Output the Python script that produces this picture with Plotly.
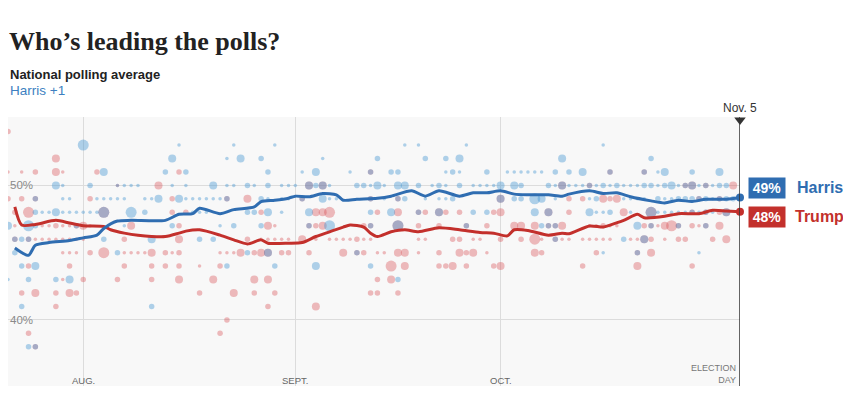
import plotly.graph_objects as go
import pandas as pd

# ---------------- data ----------------
START = "2024-07-21"   # day 0 of the poll day offsets
END = "2024-11-05"

harris_dates = ["2024-07-22", "2024-07-24", "2024-07-25", "2024-07-27", "2024-07-30",
                "2024-08-01", "2024-08-03", "2024-08-04", "2024-08-06", "2024-08-08", "2024-08-13",
                "2024-08-15", "2024-08-17", "2024-08-18", "2024-08-21", "2024-08-23", "2024-08-26",
                "2024-08-27", "2024-08-29", "2024-08-31",
                "2024-09-01", "2024-09-03", "2024-09-05", "2024-09-07", "2024-09-08", "2024-09-10",
                "2024-09-13", "2024-09-15", "2024-09-18", "2024-09-20", "2024-09-22", "2024-09-25",
                "2024-09-27", "2024-09-29",
                "2024-10-01", "2024-10-03", "2024-10-05", "2024-10-08", "2024-10-10", "2024-10-11",
                "2024-10-14", "2024-10-16", "2024-10-18", "2024-10-20", "2024-10-23", "2024-10-25",
                "2024-10-27", "2024-10-29", "2024-10-31", "2024-11-03", "2024-11-05"]
harris_avg = [45.35, 44.8, 45.55, 45.75, 45.9,
              46.1, 46.3, 46.8, 47.35, 47.4, 47.4,
              47.85, 47.9, 48.3, 47.9, 48.2, 48.4,
              48.8, 48.9, 49.05,
              49.2, 49.15, 49.4, 49.3, 48.9, 48.97,
              49.05, 49.2, 49.6, 49.2, 49.6, 49.2,
              49.45, 49.45,
              49.6, 49.35, 49.3, 49.3, 49.2, 49.35,
              49.6, 49.4, 49.45, 49.15, 48.85, 48.7,
              48.9, 48.8, 48.97, 48.97, 49.1]

trump_dates = ["2024-07-22", "2024-07-23", "2024-07-25", "2024-07-28", "2024-07-30",
               "2024-08-01", "2024-08-04", "2024-08-05", "2024-08-07", "2024-08-09", "2024-08-13",
               "2024-08-15", "2024-08-16", "2024-08-18", "2024-08-21", "2024-08-23", "2024-08-25",
               "2024-08-27", "2024-08-28", "2024-08-31",
               "2024-09-02", "2024-09-04", "2024-09-06", "2024-09-08", "2024-09-09", "2024-09-11",
               "2024-09-12", "2024-09-13", "2024-09-15", "2024-09-17", "2024-09-19", "2024-09-22",
               "2024-09-25", "2024-09-28", "2024-09-30",
               "2024-10-02", "2024-10-03", "2024-10-05", "2024-10-08", "2024-10-10", "2024-10-11",
               "2024-10-14", "2024-10-16", "2024-10-17", "2024-10-19", "2024-10-21", "2024-10-22",
               "2024-10-25", "2024-10-27", "2024-10-30", "2024-11-01", "2024-11-03", "2024-11-05"]
trump_avg = [48.4, 47.05, 47.1, 47.4, 47.2,
             47.0, 46.95, 46.7, 46.45, 46.3, 46.2,
             46.45, 46.6, 46.7, 46.3, 45.95, 45.65,
             45.95, 45.7, 45.7,
             45.75, 46.2, 46.55, 46.9, 47.05, 46.9,
             46.45, 46.2, 46.55, 46.7, 46.55, 46.85,
             46.7, 46.5, 46.45,
             46.25, 46.7, 46.65, 46.3, 46.45, 46.4,
             46.98, 46.9, 47.05, 47.4, 47.85, 47.6,
             47.7, 47.9, 47.9, 48.15, 48.1, 48.05]

# individual polls: (day offset from START, percent, size class 1-4)
harris_polls = [
    (11, 53, 4), (25, 53, 1), (33, 53, 1), (39, 53, 1), (58, 53, 1), (60, 53, 1), (67, 53, 1), (87, 53, 1),
    (24, 52, 3), (32, 52, 1), (34, 52, 3), (37, 52, 2), (46, 52, 1), (54, 52, 2), (61, 52, 2), (64, 52, 2),
    (66, 52, 3), (81, 52, 3), (94, 52, 2),
    (14, 51, 3), (23, 51, 2), (26, 51, 2), (38, 51, 2), (43, 51, 1), (45, 51, 3), (50, 51, 1), (53, 51, 2),
    (56, 51, 2), (57, 51, 2), (64, 51, 1), (65, 51, 2), (66, 51, 1), (70, 51, 2), (73, 51, 1), (74, 51, 1),
    (75, 51, 1), (76, 51, 1), (77, 51, 1), (78, 51, 1), (80, 51, 2), (82, 51, 2), (84, 51, 3), (88, 51, 2),
    (93, 51, 2), (95, 51, 1), (96, 51, 3), (100, 51, 2), (104, 51, 3),
    (7, 50, 3), (8, 50, 1), (12, 50, 2), (16, 50, 1), (17, 50, 1), (18, 50, 1), (19, 50, 1), (24, 50, 1),
    (26, 50, 1), (30, 50, 3), (32, 50, 1), (33, 50, 1), (35, 50, 2), (36, 50, 1), (38, 50, 2), (40, 50, 1),
    (41, 50, 1), (42, 50, 1), (44, 50, 3), (45, 50, 2), (46, 50, 3), (47, 50, 1), (51, 50, 2), (52, 50, 2),
    (53, 50, 1), (54, 50, 3), (55, 50, 1), (57, 50, 3), (58, 50, 3), (60, 50, 2), (62, 50, 1), (63, 50, 2),
    (64, 50, 1), (66, 50, 2), (68, 50, 1), (69, 50, 1), (70, 50, 1), (71, 50, 1), (72, 50, 3), (74, 50, 3),
    (75, 50, 2), (79, 50, 2), (80, 50, 1), (81, 50, 3), (82, 50, 1), (83, 50, 1), (84, 50, 1), (85, 50, 2),
    (86, 50, 1), (87, 50, 2), (88, 50, 1), (89, 50, 2), (90, 50, 1), (91, 50, 1), (92, 50, 1), (93, 50, 2),
    (94, 50, 2), (95, 50, 1), (96, 50, 2), (97, 50, 3), (98, 50, 1), (99, 50, 2), (100, 50, 3), (101, 50, 1),
    (102, 50, 2), (103, 50, 1), (104, 50, 2), (105, 50, 2),
    (4, 49, 2), (8, 49, 1), (9, 49, 1), (13, 49, 1), (14, 49, 1), (15, 49, 1), (16, 49, 1), (17, 49, 1),
    (20, 49, 1), (21, 49, 1), (22, 49, 3), (25, 49, 3), (26, 49, 1), (27, 49, 1), (28, 49, 1), (29, 49, 1),
    (30, 49, 1), (31, 49, 1), (32, 49, 2), (37, 49, 2), (38, 49, 1), (40, 49, 1), (41, 49, 1), (43, 49, 2),
    (46, 49, 3), (47, 49, 1), (48, 49, 1), (53, 49, 2), (55, 49, 1), (57, 49, 2), (58, 49, 2), (61, 49, 1),
    (63, 49, 1), (64, 49, 1), (65, 49, 2), (72, 49, 3), (74, 49, 2), (75, 49, 2), (77, 49, 4), (78, 49, 3),
    (80, 49, 1), (85, 49, 1), (86, 49, 2), (90, 49, 1), (91, 49, 1), (92, 49, 1), (93, 49, 1), (95, 49, 2),
    (96, 49, 1), (97, 49, 1), (98, 49, 2), (99, 49, 2), (100, 49, 2), (101, 49, 2), (102, 49, 2),
    (103, 49, 1), (104, 49, 2), (105, 49, 2), (106, 49, 2),
    (4, 48, 2), (5, 48, 1), (6, 48, 1), (7, 48, 3), (8, 48, 1), (9, 48, 1), (10, 48, 1), (11, 48, 1),
    (12, 48, 1), (13, 48, 1), (14, 48, 4), (18, 48, 4), (20, 48, 2), (27, 48, 1), (28, 48, 1), (29, 48, 1),
    (35, 48, 2), (36, 48, 2), (38, 48, 3), (40, 48, 1), (44, 48, 3), (53, 48, 2), (56, 48, 3), (60, 48, 2),
    (63, 48, 3), (68, 48, 2), (70, 48, 2), (77, 48, 3), (79, 48, 3), (85, 48, 3), (86, 48, 1), (87, 48, 1),
    (88, 48, 2), (91, 48, 1), (94, 48, 4), (95, 48, 1), (96, 48, 1), (97, 48, 1), (98, 48, 1), (99, 48, 1),
    (100, 48, 2), (101, 48, 1), (102, 48, 2), (103, 48, 1), (105, 48, 3),
    (0, 47, 3), (3, 47, 4), (4, 47, 2), (10, 47, 2), (17, 47, 1), (24, 47, 2), (31, 47, 1), (33, 47, 2),
    (37, 47, 2), (44, 47, 2), (47, 47, 4), (53, 47, 2), (57, 47, 4), (67, 47, 2), (78, 47, 2), (79, 47, 2),
    (80, 47, 2), (92, 47, 3), (94, 47, 2), (98, 47, 2), (102, 47, 2),
    (1, 46, 2), (2, 46, 2), (3, 46, 2), (14, 46, 2), (21, 46, 3), (28, 46, 2), (30, 46, 2), (80, 46, 2),
    (90, 46, 2), (93, 46, 3),
    (1, 45, 2), (16, 45, 2), (35, 45, 2), (38, 45, 3), (51, 45, 2), (87, 45, 1), (92, 45, 2), (101, 45, 1),
    (2, 44, 2), (4, 44, 3), (32, 44, 2), (39, 44, 2), (45, 44, 3), (53, 44, 2),
    (0, 43, 1), (3, 43, 2), (7, 43, 2), (9, 43, 3), (57, 43, 2),
    (2, 41, 2), (21, 41, 2),
    (3, 38, 2), (4, 38, 2),
]

trump_polls = [
    (0, 54, 2),
    (7, 52, 3),
    (0, 51, 1), (2, 51, 1), (4, 51, 2), (7, 51, 3), (8, 51, 1), (13, 51, 2), (25, 51, 2), (53, 51, 2),
    (88, 51, 2), (93, 51, 2),
    (16, 50, 1), (22, 50, 3), (44, 50, 3), (46, 50, 3), (81, 50, 3), (85, 50, 2), (99, 50, 2), (100, 50, 3),
    (102, 50, 2), (106, 50, 3),
    (0, 49, 2), (2, 49, 2), (4, 49, 2), (12, 49, 2), (24, 49, 2), (32, 49, 2), (35, 49, 3), (43, 49, 2),
    (53, 49, 2), (57, 49, 2), (72, 49, 3), (82, 49, 2), (84, 49, 2), (87, 49, 3), (88, 49, 2), (89, 49, 3),
    (101, 49, 2), (104, 49, 2),
    (1, 48, 2), (3, 48, 4), (14, 48, 4), (24, 48, 2), (26, 48, 2), (37, 48, 2), (45, 48, 3), (46, 48, 3),
    (47, 48, 4), (54, 48, 2), (57, 48, 3), (60, 48, 2), (61, 48, 2), (63, 48, 3), (64, 48, 2), (66, 48, 2),
    (71, 48, 2), (72, 48, 3), (79, 48, 3), (82, 48, 2), (90, 48, 3), (94, 48, 4), (100, 48, 2), (102, 48, 2),
    (104, 48, 2), (105, 48, 3),
    (1, 47, 1), (5, 47, 1), (6, 47, 1), (7, 47, 2), (8, 47, 1), (9, 47, 1), (10, 47, 2), (11, 47, 3),
    (12, 47, 1), (18, 47, 3), (25, 47, 2), (38, 47, 3), (39, 47, 1), (44, 47, 2), (45, 47, 2), (46, 47, 3),
    (52, 47, 2), (53, 47, 2), (57, 47, 4), (60, 47, 2), (63, 47, 2), (67, 47, 2), (70, 47, 2), (74, 47, 3),
    (75, 47, 3), (77, 47, 3), (79, 47, 2), (80, 47, 2), (81, 47, 3), (85, 47, 1), (86, 47, 1), (87, 47, 2),
    (88, 47, 1), (89, 47, 1), (93, 47, 2), (94, 47, 2), (95, 47, 1), (96, 47, 3), (97, 47, 4), (98, 47, 2),
    (100, 47, 2), (101, 47, 1), (102, 47, 2), (104, 47, 3),
    (1, 46, 2), (3, 46, 2), (4, 46, 1), (5, 46, 1), (6, 46, 1), (7, 46, 1), (8, 46, 1), (9, 46, 1),
    (10, 46, 1), (11, 46, 1), (17, 46, 2), (25, 46, 3), (35, 46, 2), (37, 46, 1), (38, 46, 1), (39, 46, 1),
    (40, 46, 1), (41, 46, 1), (43, 46, 3), (45, 46, 1), (47, 46, 1), (48, 46, 1), (49, 46, 1), (50, 46, 1),
    (51, 46, 2), (52, 46, 1), (53, 46, 1), (60, 46, 1), (61, 46, 1), (65, 46, 2), (66, 46, 2), (68, 46, 1),
    (69, 46, 1), (72, 46, 2), (75, 46, 2), (77, 46, 4), (78, 46, 1), (80, 46, 2), (81, 46, 1), (82, 46, 1),
    (84, 46, 1), (85, 46, 1), (86, 46, 1), (87, 46, 1), (88, 46, 1), (91, 46, 1), (92, 46, 1), (93, 46, 3),
    (94, 46, 2), (96, 46, 1), (98, 46, 2), (99, 46, 2), (103, 46, 2), (105, 46, 3),
    (8, 45, 1), (9, 45, 1), (10, 45, 1), (12, 45, 2), (14, 45, 4), (17, 45, 1), (18, 45, 1), (19, 45, 1),
    (20, 45, 1), (21, 45, 3), (23, 45, 2), (24, 45, 1), (25, 45, 2), (31, 45, 1), (32, 45, 1), (33, 45, 1),
    (34, 45, 3), (36, 45, 2), (37, 45, 3), (38, 45, 3), (40, 45, 2), (41, 45, 2), (44, 45, 2), (49, 45, 3),
    (51, 45, 2), (52, 45, 2), (54, 45, 1), (55, 45, 1), (57, 45, 3), (58, 45, 3), (60, 45, 1), (63, 45, 2),
    (66, 45, 3), (67, 45, 2), (68, 45, 3), (70, 45, 1), (77, 45, 3), (78, 45, 2), (86, 45, 2), (92, 45, 2),
    (94, 45, 3),
    (3, 44, 2), (9, 44, 2), (17, 44, 2), (21, 44, 2), (23, 44, 2), (25, 44, 2), (28, 44, 1), (31, 44, 2),
    (56, 44, 4), (58, 44, 3), (63, 44, 2), (64, 44, 2), (65, 44, 3), (67, 44, 2), (71, 44, 2), (72, 44, 3),
    (84, 44, 2), (92, 44, 3), (100, 44, 2),
    (8, 43, 1), (11, 43, 2), (16, 43, 2), (21, 43, 2), (25, 43, 3), (30, 43, 3), (36, 43, 3), (38, 43, 3),
    (54, 43, 2), (56, 43, 3),
    (2, 42, 2), (4, 42, 3), (7, 42, 2), (9, 42, 3), (10, 42, 2), (28, 42, 2), (33, 42, 3), (36, 42, 2),
    (39, 42, 2), (53, 42, 2), (54, 42, 2), (57, 42, 2),
    (7, 41, 2), (38, 41, 2), (45, 41, 3),
    (32, 40, 2),
    (3, 39, 2), (31, 39, 2),
    (4, 38, 2),
]

month_ticks = ["2024-08-01", "2024-09-01", "2024-10-01"]
month_labels = ["AUG.", "SEPT.", "OCT."]
pct_ticks = [40, 50]
pct_labels = ["40%", "50%"]

# ---------------- style ----------------
SIZE_PX = {1: 3.5, 2: 5.5, 3: 8, 4: 11}
H_LINE = "#2f6db1"
T_LINE = "#c3302c"
H_DOT = "rgba(70,150,210,0.6)"
T_DOT = "rgba(215,80,85,0.55)"
SANS = "Liberation Sans, Arial, sans-serif"

# the page body adds an 8px margin on every side; size the figure so it does not overflow
OFF = 8
W, H = 851 - 2 * OFF, 394 - 2 * OFF          # figure spans page x 8..843, y 8..386
PLOT_TOP, PLOT_BOTTOM, PLOT_RIGHT = 117, 386, 740       # page pixels
ML = 0
MR = (OFF + W) - PLOT_RIGHT
MT = PLOT_TOP - OFF
MB = (OFF + H) - PLOT_BOTTOM
PH = PLOT_BOTTOM - PLOT_TOP


def py(Y):
    """page pixel y -> paper y"""
    return (PLOT_BOTTOM - Y) / PH


start = pd.Timestamp(START)


def poll_xy(polls):
    xs = [start + pd.Timedelta(days=d) for d, _, _ in polls]
    ys = [p for _, p, _ in polls]
    ss = [SIZE_PX[s] for _, _, s in polls]
    return xs, ys, ss


fig = go.Figure()

tx, ty, ts = poll_xy(trump_polls)
fig.add_trace(go.Scatter(x=tx, y=ty, mode="markers", hoverinfo="skip", showlegend=False,
                         marker=dict(size=ts, color=T_DOT, line=dict(width=0))))
hx, hy, hs = poll_xy(harris_polls)
fig.add_trace(go.Scatter(x=hx, y=hy, mode="markers", hoverinfo="skip", showlegend=False,
                         marker=dict(size=hs, color=H_DOT, line=dict(width=0))))

fig.add_trace(go.Scatter(x=trump_dates, y=trump_avg, mode="lines", showlegend=False,
                         line=dict(color=T_LINE, width=3, shape="spline", smoothing=0.7)))
fig.add_trace(go.Scatter(x=harris_dates, y=harris_avg, mode="lines", showlegend=False,
                         line=dict(color=H_LINE, width=3, shape="spline", smoothing=0.7)))
fig.add_trace(go.Scatter(x=[trump_dates[-1], harris_dates[-1]], y=[trump_avg[-1], harris_avg[-1]],
                         mode="markers", showlegend=False, cliponaxis=False,
                         marker=dict(size=8, color=[T_LINE, H_LINE])))

PX_PER_PT = 13.45
Y50 = 185.4
YMIN = 50 - (PLOT_BOTTOM - Y50) / PX_PER_PT
YMAX = 50 + (Y50 - PLOT_TOP) / PX_PER_PT

# election day marker
fig.add_shape(type="line", x0=END, x1=END, yref="paper", y0=0, y1=1,
              line=dict(color="#333", width=1.5), layer="above")
fig.add_trace(go.Scatter(x=[END], y=[YMAX - 0.22], mode="markers", showlegend=False, cliponaxis=False,
                         marker=dict(symbol="triangle-down", size=10, color="#333")))

ann = []
ann.append(dict(text="<b>Who’s leading the polls?</b>", xref="paper", yref="paper", x=0, xshift=-1,
                y=py(41), xanchor="left", yanchor="middle", showarrow=False,
                font=dict(family="Liberation Serif, serif", size=26, color="#222")))
ann.append(dict(text="<b>National polling average</b>", xref="paper", yref="paper", x=0, y=py(75),
                xanchor="left", yanchor="middle", showarrow=False,
                font=dict(family=SANS, size=13, color="#222")))
ann.append(dict(text="Harris +1", xref="paper", yref="paper", x=0, y=py(90),
                xanchor="left", yanchor="middle", showarrow=False,
                font=dict(family=SANS, size=13.5, color="#3d7fc1")))
for v, t in zip(pct_ticks, pct_labels):
    ann.append(dict(text=t, xref="paper", yref="y", x=0, xshift=0, y=v, xanchor="left",
                    yanchor="middle", showarrow=False, font=dict(family=SANS, size=11.5, color="#8a8a8a")))
for d, t in zip(month_ticks, month_labels):
    ann.append(dict(text=t, xref="x", yref="paper", x=d, y=py(380.5), xanchor="center",
                    yanchor="middle", showarrow=False, font=dict(family=SANS, size=9.5, color="#666")))
ann.append(dict(text="ELECTION<br>DAY", xref="x", yref="paper", x=END, xshift=-2, y=py(373.5),
                xanchor="right", yanchor="middle", align="right", showarrow=False,
                font=dict(family=SANS, size=9, color="#777")))
ann.append(dict(text="Nov. 5", xref="x", yref="paper", x=END, y=py(107.5), xanchor="center",
                yanchor="middle", showarrow=False, font=dict(family=SANS, size=12, color="#333")))

# end labels
ann.append(dict(text="<b>49%</b>", xref="paper", yref="y", x=1, xshift=8, y=harris_avg[-1], yshift=9.7,
                xanchor="left", yanchor="middle", showarrow=False, bgcolor=H_LINE, width=34, height=18,
                borderpad=1, align="center", font=dict(family=SANS, size=14, color="white")))
ann.append(dict(text="<b>Harris</b>", xref="paper", yref="y", x=1, xshift=55, y=harris_avg[-1], yshift=9.7,
                xanchor="left", yanchor="middle", showarrow=False,
                font=dict(family=SANS, size=16, color=H_LINE)))
ann.append(dict(text="<b>48%</b>", xref="paper", yref="y", x=1, xshift=8, y=trump_avg[-1], yshift=-5.3,
                xanchor="left", yanchor="middle", showarrow=False, bgcolor=T_LINE, width=34, height=18,
                borderpad=1, align="center", font=dict(family=SANS, size=14, color="white")))
ann.append(dict(text="<b>Trump</b>", xref="paper", yref="y", x=1, xshift=53, y=trump_avg[-1], yshift=-5.3,
                xanchor="left", yanchor="middle", showarrow=False,
                font=dict(family=SANS, size=16, color=T_LINE)))

fig.update_layout(
    width=W, height=H,
    margin=dict(l=ML, r=MR, t=MT, b=MB),
    paper_bgcolor="white", plot_bgcolor="#f8f8f8",
    annotations=ann,
    xaxis=dict(type="date", range=[START, END], tickvals=month_ticks, showticklabels=False,
               showgrid=True, gridcolor="#dcdcdc", gridwidth=1, zeroline=False, showline=False, ticks=""),
    yaxis=dict(range=[YMIN, YMAX], tickvals=pct_ticks, showticklabels=False, showgrid=True,
               gridcolor="#dcdcdc", gridwidth=1, zeroline=False, showline=False, ticks=""),
    hovermode=False,
)

fig.write_html("out.html")
